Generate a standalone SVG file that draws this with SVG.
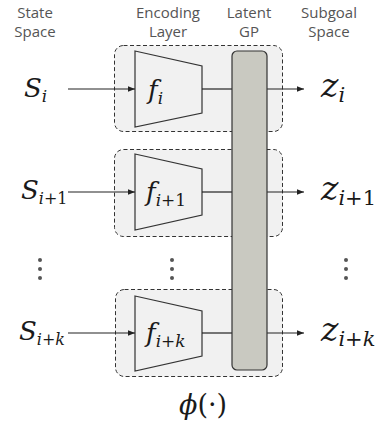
<svg xmlns="http://www.w3.org/2000/svg" width="383" height="425" viewBox="0 0 383 425">
<defs>
<style>
.hdr{font-family:"Open Sans","Noto Sans",sans-serif;font-size:15px;fill:#555;text-anchor:middle}
.m{font-family:"DejaVu Serif","Liberation Serif",serif;font-style:italic;fill:#1a1a1a}
.up{font-style:normal}
.grp{fill:#f1f1f1;stroke:#333;stroke-width:1;stroke-dasharray:4 2.5}
.enc{fill:#f1f1f1;stroke:#333;stroke-width:1.2}
.gp{fill:#c9c9c1;stroke:#333;stroke-width:1.2}
.ln{stroke:#222;stroke-width:1.2;fill:none}
.dot{fill:#555}
</style>
<marker id="ah" viewBox="0 0 10 10" refX="10" refY="5" markerWidth="7" markerHeight="7" markerUnits="userSpaceOnUse" orient="auto">
<path d="M0,1 L10,5 L0,9 z" fill="#222"/>
</marker>
</defs>
<rect width="383" height="425" fill="#fff"/>
<g id="headers">
<text class="hdr" x="35" y="18">State</text>
<text class="hdr" x="35" y="37">Space</text>
<text class="hdr" x="168" y="18">Encoding</text>
<text class="hdr" x="168" y="37">Layer</text>
<text class="hdr" x="249" y="18">Latent</text>
<text class="hdr" x="249" y="37">GP</text>
<text class="hdr" x="329" y="18">Subgoal</text>
<text class="hdr" x="329" y="37">Space</text>
</g>
<g id="group1"><rect class="grp" x="114.5" y="45.5" width="168" height="86" rx="9"/></g>
<g id="group2"><rect class="grp" x="114.5" y="149.5" width="168" height="87" rx="9"/></g>
<g id="group3"><rect class="grp" x="115.5" y="289.5" width="167" height="87" rx="9"/></g>
<g id="enc1"><polygon class="enc" points="135,51 202,66 202,113 135,127"/>
<text class="m" x="148" y="99" font-size="26">f<tspan font-size="17" dy="5">i</tspan></text></g>
<g id="enc2"><polygon class="enc" points="135,154 202,169 202,215 135,230"/>
<text class="m" x="146" y="201" font-size="26">f<tspan font-size="17" dy="5">i</tspan><tspan class="up" font-size="17">+1</tspan></text></g>
<g id="enc3"><polygon class="enc" points="135,296 202,311 202,356 135,371"/>
<text class="m" x="146" y="342" font-size="26">f<tspan font-size="17" dy="5">i</tspan><tspan class="up" font-size="17">+</tspan><tspan font-size="17">k</tspan></text></g>
<g id="connectors">
<line class="ln" x1="68" y1="89" x2="135" y2="89" marker-end="url(#ah)"/>
<line class="ln" x1="202" y1="89" x2="232" y2="89"/>
<line class="ln" x1="267" y1="89" x2="304" y2="89" marker-end="url(#ah)"/>
<line class="ln" x1="68" y1="192" x2="135" y2="192" marker-end="url(#ah)"/>
<line class="ln" x1="202" y1="192" x2="232" y2="192"/>
<line class="ln" x1="267" y1="192" x2="304" y2="192" marker-end="url(#ah)"/>
<line class="ln" x1="68" y1="333" x2="135" y2="333" marker-end="url(#ah)"/>
<line class="ln" x1="202" y1="333" x2="232" y2="333"/>
<line class="ln" x1="267" y1="333" x2="304" y2="333" marker-end="url(#ah)"/>
</g>
<g id="gp"><rect class="gp" x="232" y="51" width="35" height="319" rx="5"/></g>
<g id="s1"><text class="m" x="24" y="97" font-size="26">S<tspan font-size="17" dy="5">i</tspan></text></g>
<g id="s2"><text class="m" x="21" y="199" font-size="26">S<tspan font-size="16" dy="5">i</tspan><tspan class="up" font-size="16">+1</tspan></text></g>
<g id="s3"><text class="m" x="19" y="340" font-size="26">S<tspan font-size="16" dy="5">i</tspan><tspan class="up" font-size="16">+</tspan><tspan font-size="16">k</tspan></text></g>
<g id="z1"><text class="m" x="321" y="97" font-size="33">z<tspan font-size="21" dy="5">i</tspan></text></g>
<g id="z2"><text class="m" x="321" y="200" font-size="33">z<tspan font-size="21" dy="5">i</tspan><tspan class="up" font-size="21">+1</tspan></text></g>
<g id="z3"><text class="m" x="321" y="341" font-size="33">z<tspan font-size="21" dy="5">i</tspan><tspan class="up" font-size="21">+</tspan><tspan font-size="21">k</tspan></text></g>
<g id="dots">
<circle class="dot" cx="40" cy="260" r="2"/><circle class="dot" cx="40" cy="269" r="2"/><circle class="dot" cx="40" cy="278" r="2"/>
<circle class="dot" cx="172" cy="260" r="2"/><circle class="dot" cx="172" cy="269" r="2"/><circle class="dot" cx="172" cy="278" r="2"/>
<circle class="dot" cx="346" cy="260" r="2"/><circle class="dot" cx="346" cy="269" r="2"/><circle class="dot" cx="346" cy="278" r="2"/>
</g>
<g id="phi"><text class="m" x="203" y="414" font-size="27" text-anchor="middle">ϕ<tspan class="up">(·)</tspan></text></g>
</svg>
